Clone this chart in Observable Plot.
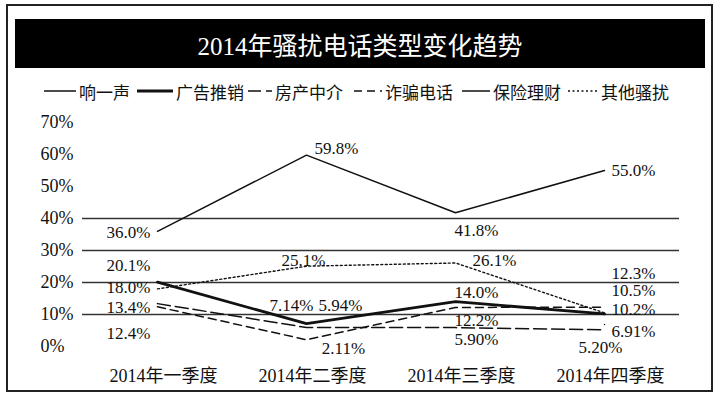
<!DOCTYPE html>
<html>
<head>
<meta charset="utf-8">
<script src="https://cdn.jsdelivr.net/npm/d3@7"></script>
<script src="https://cdn.jsdelivr.net/npm/@observablehq/plot@0.6"></script>
<style>
  body { margin: 0; background: #fff; }
  #wrap { position: relative; width: 721px; height: 397px; background: #fff; overflow: hidden;
          font-family: "Liberation Serif", "Noto Sans CJK SC", serif; color: #111; }
  #frame { position: absolute; left: 6px; top: 4px; width: 703px; height: 384px; border: 2px solid #222; }
  #titlebar { position: absolute; left: 15px; top: 19px; width: 690px; height: 49px; background: #000; color: #fff;
              font-size: 25px; display: flex; align-items: center; justify-content: center; }
  .leg { position: absolute; top: 80px; height: 22px; display: flex; align-items: center; font-size: 17px; white-space: nowrap; }
  .leg svg { margin-right: 3px; }
  #plot { position: absolute; left: 0; top: 100px; }
</style>
</head>
<body>
<div id="wrap">
  <div id="frame"></div>
  <div id="titlebar"></div>
  <div id="legend"></div>
  <div id="plot"></div>
</div>
<script>
// ---- data ----
const chartTitle = "2014年骚扰电话类型变化趋势";
const quarters = ["2014年一季度", "2014年二季度", "2014年三季度", "2014年四季度"];
const seriesNames = ["响一声", "广告推销", "房产中介", "诈骗电话", "保险理财", "其他骚扰"];
const xiangYiSheng = [36.0, 59.8, 41.8, 55.0];
const guangGaoTuiXiao = [20.1, 7.14, 14.0, 10.2];
const fangChanZhongJie = [13.4, 5.94, 5.90, 5.20];
const zhaPianDianHua = [12.4, 2.11, 12.2, 12.3];
const baoXianLiCai = [null, null, null, 6.91];
const qiTaSaoRao = [18.0, 25.1, 26.1, 10.5];
const yTicks = [0, 10, 20, 30, 40, 50, 60, 70];
const gridValues = [10, 20, 30, 40];

const seriesValues = [xiangYiSheng, guangGaoTuiXiao, fangChanZhongJie, zhaPianDianHua, baoXianLiCai, qiTaSaoRao];

// ---- styles (kept apart from data) ----
const FONT = '"Liberation Serif", "Noto Sans CJK SC", serif';
const lineStyles = {
  "响一声":   {strokeWidth: 1.5, strokeDasharray: null},
  "广告推销": {strokeWidth: 2.8, strokeDasharray: null},
  "房产中介": {strokeWidth: 1.5, strokeDasharray: "13,5"},
  "诈骗电话": {strokeWidth: 1.5, strokeDasharray: "8,5"},
  "保险理财": {strokeWidth: 1.5, strokeDasharray: null},
  "其他骚扰": {strokeWidth: 1.4, strokeDasharray: "2,2.5"}
};
// label offsets [dx, dy] per series, per quarter
const labelOffsets = {
  "响一声":   [[-29, 1], [30, -7], [21, 18], [29, 0]],
  "广告推销": [[-29, -17], [-15, -18], [21, -9], [29, -4]],
  "房产中介": [[-29, 4], [34, -22], [21, 12], [-4, 18]],
  "诈骗电话": [[-29, 27], [37, 9], [21, 13], [29, -34]],
  "保险理财": [[0, 0], [0, 0], [0, 0], [29, 7]],
  "其他骚扰": [[-29, -1], [-3, -6], [39, -2], [29, -22]]
};
const legendPos = [[44, 32], [137, 36], [248, 24], [354, 28], [462, 28], [568, 30]];

document.getElementById("titlebar").textContent = chartTitle;

// legend
const legend = document.getElementById("legend");
seriesNames.forEach((name, i) => {
  const st = lineStyles[name];
  const [left, w] = legendPos[i];
  const item = document.createElement("div");
  item.className = "leg";
  item.style.left = left + "px";
  item.innerHTML = `<svg width="${w}" height="10"><line x1="0" x2="${w}" y1="5" y2="5" stroke="#111" stroke-width="${st.strokeWidth}" ${st.strokeDasharray ? `stroke-dasharray="${st.strokeDasharray}"` : ""}/></svg><span>${name}</span>`;
  legend.appendChild(item);
});

// rows
const rows = [];
seriesNames.forEach((name, s) => {
  seriesValues[s].forEach((v, i) => {
    if (v != null) rows.push({series: name, q: quarters[i], i, v});
  });
});
const fmt = v => v.toPrecision(3) + "%";

const lineMarks = seriesNames.map(name => {
  const st = lineStyles[name];
  return Plot.line(rows.filter(d => d.series === name), {
    x: "q", y: "v", stroke: "#111", strokeWidth: st.strokeWidth,
    strokeDasharray: st.strokeDasharray || undefined
  });
});
const textMarks = rows.map(d => {
  const [dx, dy] = labelOffsets[d.series][d.i];
  return Plot.text([d], {x: "q", y: "v", text: r => fmt(r.v), dx, dy, fontSize: 17, fill: "#111", fontFamily: FONT});
});

const chart = Plot.plot({
  width: 721,
  height: 297,
  marginLeft: 82,
  marginRight: 42,
  marginTop: 22,
  marginBottom: 51,
  style: {background: "transparent", fontFamily: FONT, color: "#111", overflow: "visible"},
  x: {type: "point", domain: quarters, label: null},
  y: {domain: [0, 70], label: null},
  marks: [
    Plot.ruleY(gridValues, {stroke: "#333", strokeWidth: 1.5}),
    Plot.axisY({ticks: yTicks, tickSize: 0, tickPadding: 42, textAnchor: "start", tickFormat: d => d + "%", fontSize: 18, fontFamily: FONT, label: null}),
    Plot.axisX({tickSize: 0, tickPadding: 23, fontSize: 18, fontFamily: FONT, dx: 6, label: null}),
    ...lineMarks,
    ...textMarks
  ]
});
document.getElementById("plot").appendChild(chart);
</script>
</body>
</html>
